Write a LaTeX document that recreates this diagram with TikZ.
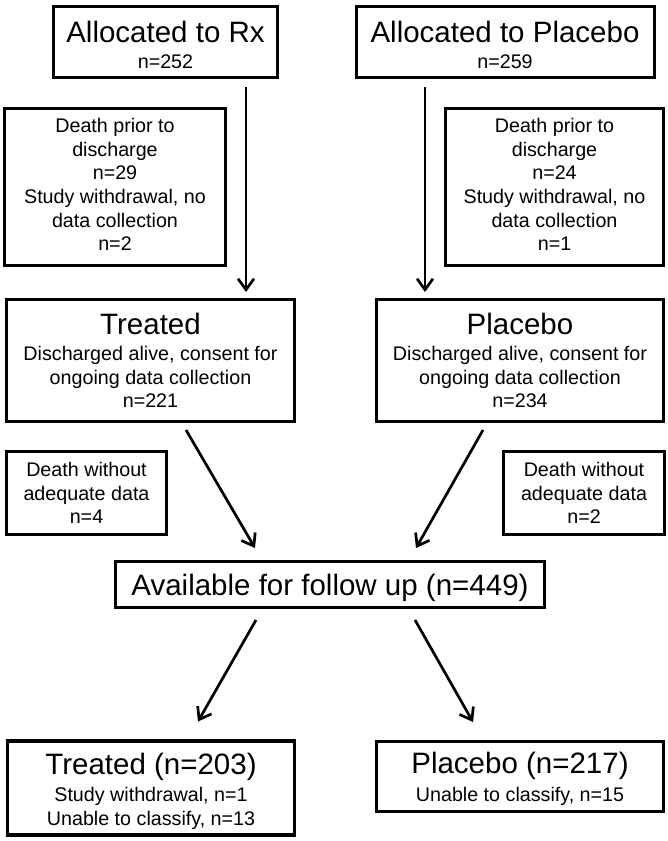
\documentclass[tikz,border=0pt]{standalone}
\usepackage{fontspec}
\setmainfont{Liberation Sans}
\usetikzlibrary{arrows.meta}
\begin{document}
\begin{tikzpicture}[x=1pt,y=-1pt,
  box/.style={draw=black, line width=3.3pt, inner sep=0pt, outer sep=0pt, fill=white},
  big/.style={anchor=base, inner sep=0pt, font=\fontsize{29.5}{30}\selectfont},
  small/.style={anchor=base, inner sep=0pt, font=\fontsize{19.7}{23}\selectfont},
  arr/.style={line width=2.7pt, -{Straight Barb[length=11pt,width=16pt]}}]
\useasboundingbox[fill=white] (0,0) rectangle (667,841);

% boxes
\node[box, minimum width=224pt, minimum height=71pt] (rx) at (165.5,42) {};
\node[box, minimum width=298pt, minimum height=71pt] (pa) at (505.5,42) {};
\node[box, minimum width=221pt, minimum height=157pt] (dl) at (115,187) {};
\node[box, minimum width=218pt, minimum height=157pt] (dr) at (554.5,187) {};
\node[box, minimum width=288pt, minimum height=122pt] (trt) at (150.5,360.5) {};
\node[box, minimum width=287pt, minimum height=122pt] (plc) at (520,360.5) {};
\node[box, minimum width=160pt, minimum height=83pt] (wl) at (86.5,493) {};
\node[box, minimum width=161pt, minimum height=83pt] (wr) at (584,493) {};
\node[box, minimum width=429pt, minimum height=46pt] (av) at (330,584.5) {};
\node[box, minimum width=287pt, minimum height=94pt] (t2) at (151,788) {};
\node[box, minimum width=287pt, minimum height=70pt] (p2) at (520,776.5) {};

% texts
\node[big] (rxa) at (165.5,42) {Allocated to Rx};
\node[small] (rxb) at (165.5,68) {n=252};
\node[big] (paa) at (505,42) {Allocated to Placebo};
\node[small] (pab) at (505,68) {n=259};

\node[small] (dl1) at (115,132.3) {Death prior to};
\node[small] (dl2) at (115,156) {discharge};
\node[small] (dl3) at (115,179.7) {n=29};
\node[small] (dl4) at (115,203.4) {Study withdrawal, no};
\node[small] (dl5) at (115,227.1) {data collection};
\node[small] (dl6) at (115,250.8) {n=2};

\node[small] (dr1) at (554.5,132.3) {Death prior to};
\node[small] (dr2) at (554.5,156) {discharge};
\node[small] (dr3) at (554.5,179.7) {n=24};
\node[small] (dr4) at (554.5,203.4) {Study withdrawal, no};
\node[small] (dr5) at (554.5,227.1) {data collection};
\node[small] (dr6) at (554.5,250.8) {n=1};

\node[big] (trt1) at (150.5,334.3) {Treated};
\node[small] (trt2) at (150.5,360.5) {Discharged alive, consent for};
\node[small] (trt3) at (150.5,384) {ongoing data collection};
\node[small] (trt4) at (150.5,407.5) {n=221};

\node[big] (plc1) at (520,334.3) {Placebo};
\node[small] (plc2) at (520,360.5) {Discharged alive, consent for};
\node[small] (plc3) at (520,384) {ongoing data collection};
\node[small] (plc4) at (520,407.5) {n=234};

\node[small] (wl1) at (86.5,476) {Death without};
\node[small] (wl2) at (86.5,500) {adequate data};
\node[small] (wl3) at (86.5,523.5) {n=4};

\node[small] (wr1) at (584,476) {Death without};
\node[small] (wr2) at (584,500) {adequate data};
\node[small] (wr3) at (584,523.5) {n=2};

\node[big] (av1) at (330,595) {Available for follow up (n=449)};

\node[big] (t21) at (151,774.3) {Treated (n=203)};
\node[small] (t22) at (151,801.7) {Study withdrawal, n=1};
\node[small] (t23) at (151,825) {Unable to classify, n=13};

\node[big] (p21) at (520,773.3) {Placebo (n=217)};
\node[small] (p22) at (520,801) {Unable to classify, n=15};

% connectors
\draw[arr, shorten <=9.5pt, shorten >=7.5pt] (rx.south -| 246,0) -- (trt.north -| 246,0);
\draw[arr, shorten <=9.5pt, shorten >=7.5pt] (pa.south -| 425,0) -- (plc.north -| 425,0);
\draw[arr] ([shift={(179.5,8.5)}]trt.south west) -- ([shift={(139.5,-13.5)}]av.north west);
\draw[arr] ([shift={(106.5,8.5)}]plc.south west) -- ([shift={(-128.5,-13.5)}]av.north east);
\draw[arr] ([shift={(140.5,12.5)}]av.south west) -- ([shift={(190.5,-19.5)}]t2.north west);
\draw[arr] ([shift={(-129.5,12.5)}]av.south east) -- ([shift={(96.5,-19.5)}]p2.north west);
\end{tikzpicture}
\end{document}
